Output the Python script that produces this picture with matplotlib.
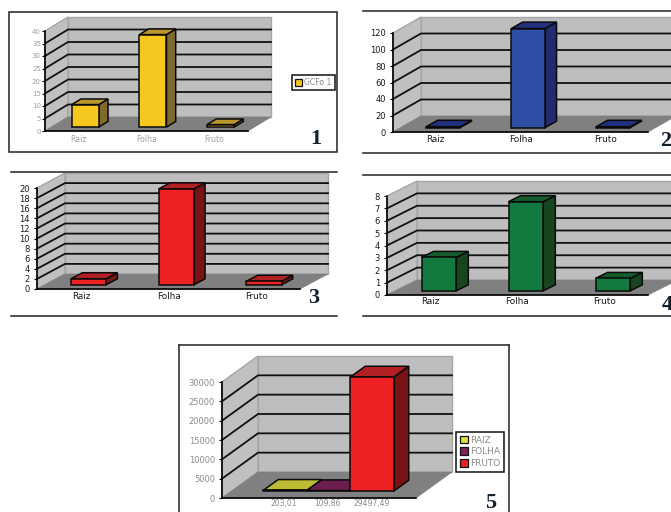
import matplotlib
matplotlib.use("Agg")
from matplotlib import pyplot as plt
from matplotlib.lines import Line2D
from matplotlib.patches import Patch, Polygon, Rectangle

W, H = 671, 512

categories = ["Raiz", "Folha", "Fruto"]
values_1 = [9, 37, 1]
values_2 = [1, 120, 1]
values_3 = [1.2, 19, 0.7]
values_4 = [2.7, 7.2, 1]

series_5 = ["RAIZ", "FOLHA", "FRUTO"]
values_5 = [203.01, 109.86, 29497.49]
labels_5 = ["203,01", "109,86", "29497,49"]

ticks_1 = [0, 5, 10, 15, 20, 25, 30, 35, 40]
ticks_2 = [0, 20, 40, 60, 80, 100, 120]
ticks_3 = [0, 2, 4, 6, 8, 10, 12, 14, 16, 18, 20]
ticks_4 = [0, 1, 2, 3, 4, 5, 6, 7, 8]
ticks_5 = [0, 5000, 10000, 15000, 20000, 25000, 30000]

YELLOW = ("#F6C71E", "#B8962A", "#7D6A2C")
BLUE = ("#2E4FA3", "#22307F", "#232A6E")
RED = ("#EE2224", "#B22024", "#7A1414")
GREEN = ("#127A3E", "#145C2C", "#17451F")
OLIVE = ("#C4C236", "#BDBB33", "#6E6C1C")
PURPLE = ("#7A2358", "#6C1F4E", "#4E1538")

fig = plt.figure(figsize=(W / 100, H / 100), dpi=100)


def px_x(x):
    return x / W


def px_y(y):
    return 1 - y / H


def make_axes(x0, x1, y_top, y_zero, ymax, xlim):
    ax = fig.add_axes([px_x(x0), px_y(y_zero), (x1 - x0) / W, (y_zero - y_top) / H])
    ax.set_xlim(*xlim)
    ax.set_ylim(0, ymax)
    ax.patch.set_visible(False)
    for s in ["top", "right"]:
        ax.spines[s].set_visible(False)
    for s in ["left", "bottom"]:
        ax.spines[s].set_linewidth(1.2)
        ax.spines[s].set_zorder(6)
    return ax


def draw_room(ax, ticks, ddx, ddy, line_w=1.3):
    # oblique walls, ddx/ddy = full depth in data units
    x0, x1 = ax.get_xlim()
    ymax = ax.get_ylim()[1]
    kw = dict(clip_on=False, zorder=1)
    ax.add_patch(Polygon([(x0 + ddx, ddy), (x1 + ddx, ddy), (x1 + ddx, ymax + ddy), (x0 + ddx, ymax + ddy)],
                         fc="#BEBEBE", ec="#A6A6A6", lw=1, **kw))
    ax.add_patch(Polygon([(x0, 0), (x0 + ddx, ddy), (x0 + ddx, ymax + ddy), (x0, ymax)],
                         fc="#C0C0C0", ec="#A6A6A6", lw=1, **kw))
    ax.add_patch(Polygon([(x0, 0), (x1, 0), (x1 + ddx, ddy), (x0 + ddx, ddy)],
                         fc="#808080", ec="#808080", lw=0.5, **kw))
    # top level has no black line, only the wall edge
    for t in ticks[1:-1]:
        ax.plot([x0, x0 + ddx, x1 + ddx], [t, t + ddy, t + ddy], color="#111111", lw=line_w,
                clip_on=False, zorder=2, solid_joinstyle="miter")


def draw_bar(ax, x, width, value, colors, ddx, ddy, f0=0.28, f1=0.68):
    left, right = x - width / 2, x + width / 2
    xa, ya = left + f0 * ddx, f0 * ddy
    xb, yb = right + f0 * ddx, f0 * ddy
    mx, my = (f1 - f0) * ddx, (f1 - f0) * ddy
    kw = dict(ec="#0A0A0A", lw=1.1, clip_on=False, zorder=4, joinstyle="miter")
    ax.add_patch(Polygon([(xb, ya), (xb + mx, ya + my), (xb + mx, ya + my + value), (xb, ya + value)],
                         fc=colors[2], **kw))
    ax.add_patch(Polygon([(xa, ya + value), (xb, ya + value), (xb + mx, ya + my + value), (xa + mx, ya + my + value)],
                         fc=colors[1], **kw))
    ax.add_patch(Polygon([(xa, ya), (xb, ya), (xb, ya + value), (xa, ya + value)], fc=colors[0], **kw))


def style_ticks(ax, ticks, color, size, xsize, pad_y=3, pad_x=3):
    ax.set_yticks(ticks)
    ax.tick_params(axis="y", length=2, width=0.8, labelsize=size, labelcolor=color, pad=pad_y)
    ax.tick_params(axis="x", length=0, labelsize=xsize, labelcolor=color, pad=pad_x)


def bar_panel(x0, x1, y_top, y_zero, dx, dy, values, ticks, colors, txt_color, size, xsize, pad_y=3, pad_x=3):
    ymax = ticks[-1]
    ax = make_axes(x0, x1, y_top, y_zero, ymax, (-0.5, 2.5))
    ddx = dx / ((x1 - x0) / 3)
    ddy = dy / ((y_zero - y_top) / ymax)
    draw_room(ax, ticks, ddx, ddy)
    for i, v in enumerate(values):
        draw_bar(ax, i, 0.4, v, colors, ddx, ddy)
    ax.set_xticks(range(3), categories)
    style_ticks(ax, ticks, txt_color, size, xsize, pad_y=pad_y, pad_x=pad_x)
    return ax


def frame_line(x0, x1, y):
    fig.add_artist(Line2D([px_x(x0), px_x(x1)], [px_y(y), px_y(y)], color="#222222", lw=1.1))


def frame_box(x0, y0, x1, y1):
    fig.add_artist(Rectangle((px_x(x0), px_y(y1)), (x1 - x0) / W, (y1 - y0) / H, fc="none", ec="#222222", lw=1.1))


def number(x, y, s):
    fig.text(px_x(x), px_y(y), s, family="Liberation Serif", weight="bold", fontsize=16, color="#14202E",
             ha="center", va="center")


def make_legend(ax, names, colors, x, y, size, spacing):
    handles = [Patch(fc=c, ec="#111111", lw=0.9) for c in colors]
    leg = ax.legend(handles, names, loc="upper left", bbox_to_anchor=(px_x(x), px_y(y)),
                    bbox_transform=fig.transFigure, borderaxespad=0, fontsize=size, labelcolor="#8A8A8A",
                    fancybox=False, framealpha=1, edgecolor="#111111", handlelength=0.9, handleheight=0.9,
                    handletextpad=0.3, labelspacing=spacing, borderpad=0.4)
    leg.get_frame().set_linewidth(1.1)
    leg.set_zorder(8)


# panel frames
frame_box(9, 12, 337, 152)
frame_line(363, 671, 11)
frame_line(363, 671, 153)
frame_line(11, 337, 172)
frame_line(11, 337, 316)
frame_line(363, 671, 175)
frame_line(363, 671, 316)

ax1 = bar_panel(45, 248, 31, 131, 23, 14, values_1, ticks_1, YELLOW, "#A0A0A0", 5, 5.6, pad_y=1, pad_x=3)
make_legend(ax1, ["GCFo 1"], [YELLOW[0]], 292, 75, 5.6, 0.2)
bar_panel(393, 648, 33, 132, 28, 16, values_2, ticks_2, BLUE, "#1A1A1A", 6, 6.4, pad_x=2)
bar_panel(37, 300, 188, 289, 28, 15, values_3, ticks_3, RED, "#1A1A1A", 6, 6.4, pad_x=2)
bar_panel(387, 648, 196, 295, 30, 15, values_4, ticks_4, GREEN, "#1A1A1A", 6, 6.4, pad_x=1.5)

# panel 5, one group of three series
frame_line(179, 509, 345)
fig.add_artist(Line2D([px_x(179)] * 2, [px_y(345), 0], color="#222222", lw=1.1))
fig.add_artist(Line2D([px_x(509)] * 2, [px_y(345), 0], color="#222222", lw=1.1))

ymax5 = ticks_5[-1]
half = 194 / 43.5 / 2
ax5 = make_axes(222, 416, 382, 498, ymax5, (-half, half))
ddx5 = 36 / 43.5
ddy5 = 26 / (116 / ymax5)
draw_room(ax5, ticks_5, ddx5, ddy5)
colors_5 = [OLIVE, PURPLE, RED]
for i, v in enumerate(values_5):
    draw_bar(ax5, i - 1, 1, v, colors_5[i], ddx5, ddy5, f0=0.27, f1=0.68)
ax5.set_xticks([i - 0.8 for i in range(3)], labels_5)
style_ticks(ax5, ticks_5, "#8A8A8A", 6, 5.5, pad_x=1)
make_legend(ax5, series_5, ["#E4E03A", PURPLE[0], RED[0]], 456, 432, 6.5, 0.3)

number(316, 139, "1")
number(666, 141, "2")
number(314, 298, "3")
number(667, 305, "4")
number(491, 503, "5")

fig.savefig("out.png", dpi=100)
